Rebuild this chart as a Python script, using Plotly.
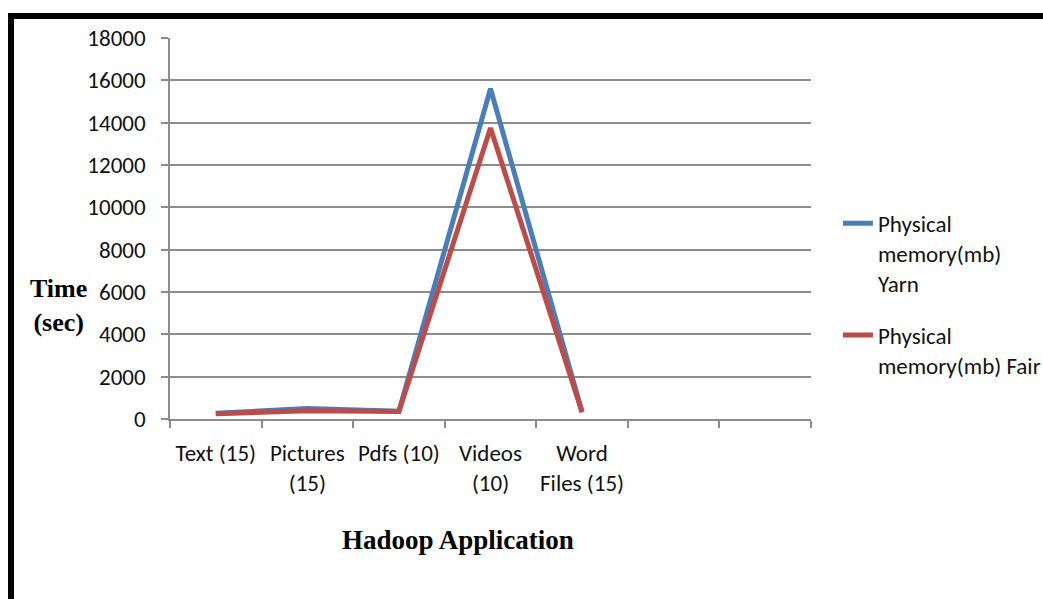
import plotly.graph_objects as go

# Hadoop application workloads (number of files in parentheses)
categories = ["Text (15)", "Pictures<br>(15)", "Pdfs (10)", "Videos<br>(10)", "Word<br>Files (15)", " ", "  "]
apps = categories[:5]
yarn_mem = [270, 500, 370, 15600, 330]
fair_mem = [250, 390, 350, 13750, 320]
y_ticks = [0, 2000, 4000, 6000, 8000, 10000, 12000, 14000, 16000, 18000]
y_tick_text = [str(v) for v in y_ticks]

BODY_FONT = "Calibri, Carlito, Lato, sans-serif"
TITLE_FONT = "Times New Roman, Liberation Serif, serif"
GRID = "#8c8c8c"
TEXT = "#111111"

fig = go.Figure()
fig.add_trace(go.Scatter(
    x=apps, y=yarn_mem, mode="lines",
    name="Physical<br>memory(mb)<br>Yarn", legendgroup="yarn",
    line=dict(color="#4A7EBB", width=5),
))
fig.add_trace(go.Scatter(
    x=apps, y=fair_mem, mode="lines",
    name="Physical<br>memory(mb) Fair", legendgroup="fair",
    line=dict(color="#BE4B48", width=5),
))

fig.update_layout(
    width=1043, height=599,
    margin=dict(l=170, r=232, t=38, b=180, autoexpand=False),
    paper_bgcolor="white", plot_bgcolor="white",
    font=dict(family=BODY_FONT, size=23, color=TEXT),
    showlegend=True,
    legend=dict(
        x=1.042, xanchor="left", y=0.57, yanchor="top",
        valign="top", font=dict(size=23, color=TEXT), tracegroupgap=19,
        bgcolor="rgba(0,0,0,0)",
    ),
    xaxis=dict(
        type="category", categoryorder="array", categoryarray=categories,
        range=[-0.5, 6.5], tickson="boundaries", tickangle=0, automargin=False,
        showline=True, linecolor=GRID, linewidth=1.5,
        ticks="outside", ticklen=7, tickcolor=GRID, tickwidth=1.5,
        showgrid=False, tickfont=dict(size=23, color=TEXT), ticklabelstandoff=13,
    ),
    yaxis=dict(
        range=[0, 18000], tickvals=y_ticks, ticktext=y_tick_text, automargin=False,
        showline=True, linecolor=GRID, linewidth=1.5,
        ticks="outside", ticklen=7, tickcolor=GRID, tickwidth=1.5,
        showgrid=True, gridcolor=GRID, gridwidth=1.5, zeroline=False,
        tickfont=dict(size=23, color=TEXT), ticklabelstandoff=11,
    ),
)

# Axis titles
fig.add_annotation(
    text="<b>Time<br>(sec)</b>", xref="paper", yref="paper",
    x=(58 - 170) / 641, y=(419 - 305) / 381, xanchor="center", yanchor="middle",
    showarrow=False, align="center",
    font=dict(family=TITLE_FONT, size=26, color="black"),
)
fig.add_annotation(
    text="<b>Hadoop Application</b>", xref="paper", yref="paper",
    x=(458 - 170) / 641, y=(419 - 540) / 381, xanchor="center", yanchor="middle",
    showarrow=False,
    font=dict(family=TITLE_FONT, size=27, color="black"),
)

# Black frame around the chart
fig.add_shape(type="line", xref="paper", yref="paper",
              x0=(11 - 170) / 641, x1=(1060 - 170) / 641,
              y0=(419 - 16) / 381, y1=(419 - 16) / 381,
              line=dict(color="black", width=6))
fig.add_shape(type="line", xref="paper", yref="paper",
              x0=(11 - 170) / 641, x1=(11 - 170) / 641,
              y0=(419 - 13) / 381, y1=(419 - 620) / 381,
              line=dict(color="black", width=6))

fig.write_html("out.html")
